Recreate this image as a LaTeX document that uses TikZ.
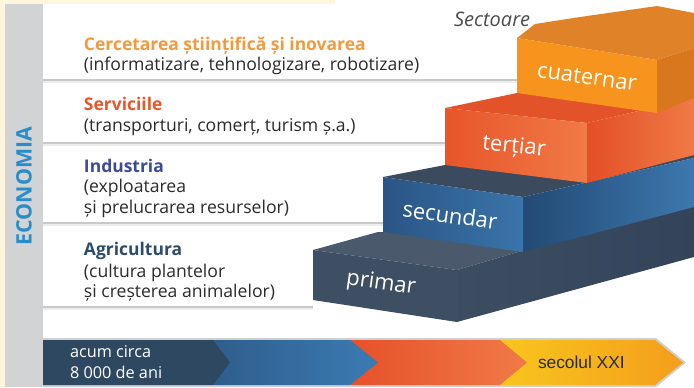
\documentclass[tikz,border=0pt]{standalone}
\usepackage{fontspec}
\setmainfont{Open Sans}
\newfontfamily\barfont{Liberation Sans}
\definecolor{cream}{HTML}{FFF5DA}
\definecolor{stripgray}{HTML}{D1D3D4}
\definecolor{txt}{HTML}{2B2B2B}
\definecolor{hcuat}{HTML}{F29A3E}
\definecolor{hserv}{HTML}{E8562A}
\definecolor{hind}{HTML}{3B4A9C}
\definecolor{hagr}{HTML}{2D4B6C}
\definecolor{econ}{HTML}{2A8DCB}
\definecolor{sectgray}{HTML}{4D4D4D}
\definecolor{cqfront}{HTML}{F7941D}
\definecolor{cqtop}{HTML}{E08228}
\definecolor{cqside}{HTML}{D9771F}
\definecolor{trtop}{HTML}{E2532A}
\definecolor{trA}{HTML}{E8552B}
\definecolor{trB}{HTML}{F07A46}
\definecolor{trsA}{HTML}{E34F27}
\definecolor{scA}{HTML}{2A5585}
\definecolor{scB}{HTML}{3A74AA}
\definecolor{scsA}{HTML}{234A74}
\definecolor{scsB}{HTML}{3C78AE}
\definecolor{sctop}{HTML}{3B4A5C}
\definecolor{prfront}{HTML}{3F4F63}
\definecolor{prtop}{HTML}{4A5A6C}
\definecolor{prsA}{HTML}{3D4D61}
\definecolor{prsB}{HTML}{33445A}
\definecolor{tlnavy}{HTML}{2E4862}
\definecolor{tlbA}{HTML}{2F5D8C}
\definecolor{tlbB}{HTML}{3B7BB3}
\definecolor{tlrA}{HTML}{E6512A}
\definecolor{tlrB}{HTML}{F07A48}
\definecolor{tlyA}{HTML}{F7C51E}
\definecolor{tlyB}{HTML}{F59E1B}
\definecolor{barshadow}{HTML}{CFCFCF}
\definecolor{sepdark}{HTML}{C9C9C9}
\definecolor{seplight}{HTML}{EDEDED}
\begin{document}
\begin{tikzpicture}[x=0.75pt,y=-0.75pt,
  every node/.style={inner sep=0pt,outer sep=0pt},
  headtxt/.style={anchor=base west,font=\fontsize{13.1}{15}\selectfont\bfseries},
  bodytxt/.style={anchor=base west,text=txt,font=\fontsize{13.2}{15}\selectfont},
  steplabel/.style={text=white,font=\fontsize{16.5}{19}\selectfont},
  bartxt/.style={anchor=base west,text=white,font=\fontsize{12.2}{14}\selectfont}]
\useasboundingbox (0,0) rectangle (694,387);
\fill[white] (0,0) rectangle (694,387);
\fill[cream] (0,0) rectangle (335,4);
\fill[cream] (0,0) rectangle (5,387);
\fill[stripgray] (5,4) rectangle (43,387);
% separator lines
\foreach \yy/\xe in {80/517,143/445,223/383,307/313}{
  \fill[seplight] (43,\yy-1) rectangle (\xe,\yy+3);
  \fill[sepdark] (43,\yy-1) rectangle (\xe,\yy+1);
}
% ECONOMIA
\node[rotate=90,text=econ,font=\fontsize{16}{19}\selectfont\bfseries] (econ) at (24,186) {ECONOMIA};
% texts
\node[headtxt,text=hcuat] (h1) at (84,50) {Cercetarea științifică și inovarea};
\node[bodytxt] (h1a) at (84,70) {(informatizare, tehnologizare, robotizare)};
\node[headtxt,text=hserv] (h2) at (84,110) {Serviciile};
\node[bodytxt] (h2a) at (84,131) {(transporturi, comerț, turism ș.a.)};
\node[headtxt,text=hind] (h3) at (84,172) {Industria};
\node[bodytxt] (h3a) at (84,192) {(exploatarea};
\node[bodytxt] (h3b) at (84,213) {și prelucrarea resurselor)};
\node[headtxt,text=hagr] (h4) at (84,255) {Agricultura};
\node[bodytxt] (h4a) at (84,277) {(cultura plantelor};
\node[bodytxt] (h4b) at (84,297) {și creșterea animalelor)};
\node[anchor=base west,text=sectgray,font=\fontsize{15}{17}\selectfont\itshape] (sect) at (454,26) {Sectoare};
% primar
\fill[prtop] (313,250) -- (378,232) -- (600,232) -- (694,200) -- (457,270) -- cycle;
\shade[left color=prsA,right color=prsB] (457,270) -- (694,200) -- (694,257) -- (457,322) -- cycle;
\fill[prfront] (313,250) -- (457,270) -- (457,322) -- (313,300) -- cycle;
% secundar
\fill[sctop] (383,177) -- (445,165) -- (470,150) -- (694,140) -- (694,158) -- (523,197) -- cycle;
\shade[left color=scsA,right color=scsB] (523,197) -- (694,158) -- (694,207) -- (523,252) -- cycle;
\shade[left color=scA,right color=scB] (383,177) -- (523,197) -- (523,252) -- (383,232) -- cycle;
% tertiar
\fill[trtop] (445,108) -- (517,93) -- (540,80) -- (694,70) -- (694,98) -- (587,123) -- cycle;
\shade[left color=trsA,right color=trB] (587,123) -- (694,98) -- (694,155) -- (587,183) -- cycle;
\shade[left color=trA,right color=trB] (445,108) -- (587,123) -- (587,183) -- (445,165) -- cycle;
% cuaternar
\fill[cqtop] (517,38) -- (535,24) -- (580,17) -- (657,6) -- (694,13) -- (694,48) -- (657,60) -- cycle;
\fill[cqside] (657,60) -- (694,48) -- (694,98) -- (657,113) -- cycle;
\fill[cqfront] (517,38) -- (657,60) -- (657,113) -- (517,93) -- cycle;
% step labels
\node[steplabel,rotate=-8] (lcuat) at (587,77) {cuaternar};
\node[steplabel,rotate=-6] (lter) at (514,147) {terțiar};
\node[steplabel,rotate=-8] (lsec) at (450,215) {secundar};
\node[steplabel,rotate=-8] (lpri) at (381,284) {primar};
% timeline
\fill[barshadow] (43,338) -- (656,338) -- (686,362.5) -- (656,387) -- (43,387) -- cycle;
\shade[left color=tlyA,right color=tlyB] (500,340) -- (655,340) -- (683,362.5) -- (655,385) -- (500,385) -- cycle;
\shade[left color=tlrA,right color=tlrB] (350,340) -- (500,340) -- (527,362.5) -- (500,385) -- (350,385) -- cycle;
\shade[left color=tlbA,right color=tlbB] (213,340) -- (350,340) -- (378,362.5) -- (350,385) -- (213,385) -- cycle;
\fill[tlnavy] (43,340) -- (213,340) -- (230,362.5) -- (213,385) -- (43,385) -- cycle;
\node[bartxt] (t1) at (70,357) {acum circa};
\node[bartxt] (t2) at (70,378) {8 000 de ani};
\node[anchor=base west,text=txt,font=\barfont\fontsize{13}{15}\selectfont] (t3) at (538,368) {secolul XXI};
\end{tikzpicture}
\end{document}
